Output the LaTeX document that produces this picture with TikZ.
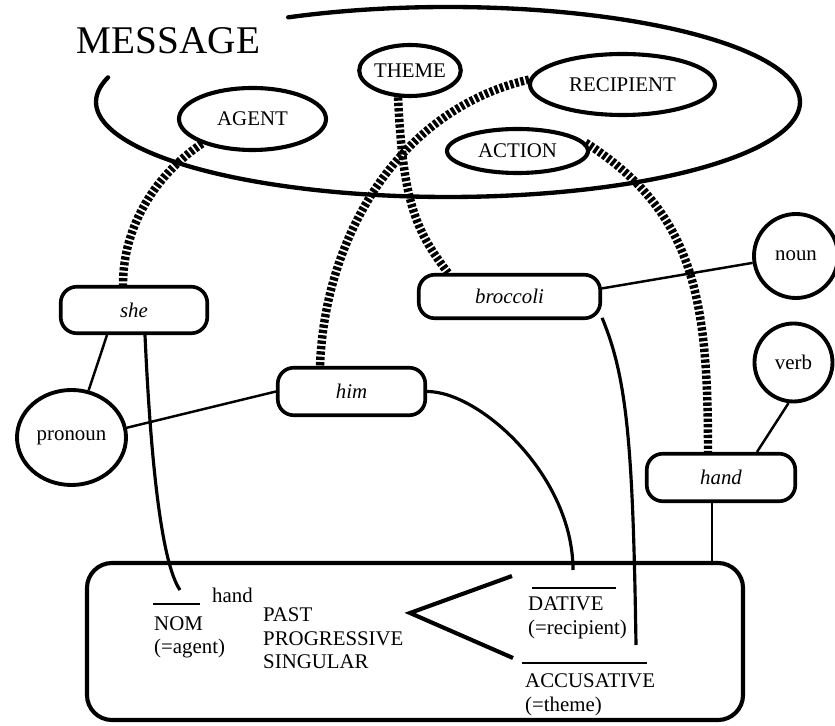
\documentclass[tikz,border=0pt]{standalone}
\usepackage{fontspec}
\setmainfont{Liberation Serif}
\usetikzlibrary{shapes.geometric,calc}
\begin{document}
\begin{tikzpicture}[x=0.03cm,y=0.03cm,
  txt/.style={font=\fontsize{17.8}{21}\selectfont, inner sep=0pt},
  role/.style={ellipse, draw, line width=3.5pt, inner sep=0pt, txt},
  word/.style={rectangle, rounded corners=0.48cm, draw, line width=3.1pt, inner sep=0pt, font=\fontsize{17.8}{21}\selectfont\itshape},
  cat/.style={ellipse, draw, line width=3.3pt, inner sep=0pt, txt},
  rail/.style={line width=7.2pt, dash pattern=on 2.9pt off 1.7pt},
  link/.style={line width=2.7pt},
  thinlink/.style={line width=2.1pt},
  lbl/.style={txt, anchor=base west},
]
\useasboundingbox (0,0) rectangle (835,726);

% message region
\draw[line width=3.7pt, line cap=round] plot[domain=-195:117, samples=150, smooth] ({448+352*cos(\x)},{624+95*sin(\x)});
\node[txt, font=\fontsize{33.5}{40}\selectfont] (msg) at (168.5,685) {MESSAGE};

\node[role, minimum width=4.41cm, minimum height=1.86cm] (agent) at (252.5,607) {AGENT};
\node[role, minimum width=2.76cm, minimum height=1.53cm] (theme) at (410,655.5) {THEME};
\node[role, minimum width=5.55cm, minimum height=1.83cm] (recip) at (622.5,641.5) {RECIPIENT};
\node[role, minimum width=4.23cm, minimum height=1.32cm] (action) at (517.5,575) {ACTION};

% words
\node[word, minimum width=4.395cm, minimum height=1.395cm] (she) at (134,416) {she};
\node[word, minimum width=4.425cm, minimum height=1.425cm] (him) at (351.5,334.5) {him};
\node[word, minimum width=5.445cm, minimum height=1.305cm] (broc) at (509.5,429.5) {broccoli};
\node[word, minimum width=4.455cm, minimum height=1.425cm] (hand) at (721,248.5) {hand};

% categories
\node[cat, minimum width=2.52cm, minimum height=2.52cm] (noun) at (796,470) {noun};
\node[cat, minimum width=2.34cm, minimum height=2.34cm] (verb) at (793.5,363.5) {verb};
\node[cat, minimum width=3.27cm, minimum height=2.85cm] (pron) at (71.5,288.5) {pronoun};

% grammar box
\node[draw, line width=3.5pt, rounded corners=0.75cm, minimum width=19.68cm, minimum height=4.71cm, inner sep=0pt] (box) at (415,84.5) {};

\node[lbl] (hand2) at (212,123) {hand};
\node[lbl] (nom) at (154,95) {NOM};
\node[lbl] (agentcase) at (154,72) {(=agent)};
\node[lbl] (past) at (263,104) {PAST};
\node[lbl] (prog) at (263,80) {PROGRESSIVE};
\node[lbl] (sing) at (263,57) {SINGULAR};
\node[lbl] (dat) at (528,115) {DATIVE};
\node[lbl] (recipcase) at (528,91.5) {(=recipient)};
\node[lbl] (acc) at (525,38) {ACCUSATIVE};
\node[lbl] (themecase) at (525,14.5) {(=theme)};

\draw[line width=2.2pt] (153,122) -- (200,122);
\draw[line width=1.8pt] (532,138) -- (616,138);
\draw[line width=1.8pt] (522,63) -- (647,63);
\draw[line width=3.5pt, line join=miter] (512,150) -- (410,113) -- (513,68);

\coordinate (nomend) at (180,136);
\coordinate (datend) at (573,156);
\coordinate (accend) at (636,81);
\coordinate (hb) at ([xshift=-0.27cm]hand.south);

% rails
\draw[rail] (agent.206) .. controls +(-45,-30) and +(0,60) .. ([xshift=-0.33cm]she.north);
\draw[rail] (theme.246) .. controls +(5,-110) and +(-30,40) .. ([xshift=-1.845cm]broc.north);
\draw[rail] (recip.177) .. controls +(-130,-30) and +(5,130) .. ([xshift=-0.945cm]him.north);
\draw[rail] (action.7) .. controls +(110,-70) and +(0,150) .. ([xshift=-0.39cm]hand.north);

% links
\draw[thinlink] ([xshift=-0.81cm]she.south) -- (pron.70);
\draw[link] ([xshift=0.33cm]she.south) .. controls (150,280) and (160,165) .. (nomend);
\draw[thinlink] (pron.10) -- (him.west);
\draw[link] (him.east) .. controls +(53,0) and +(0,94) .. (datend);
\draw[link] (broc.-13) .. controls +(25,-60) and +(-3,200) .. (accend);
\draw[thinlink] (broc.5) -- (noun.189);
\draw[thinlink] (verb.263) -- ([xshift=1.08cm]hand.north);
\draw[thinlink] (hb) -- (hb |- box.north);
\end{tikzpicture}
\end{document}
